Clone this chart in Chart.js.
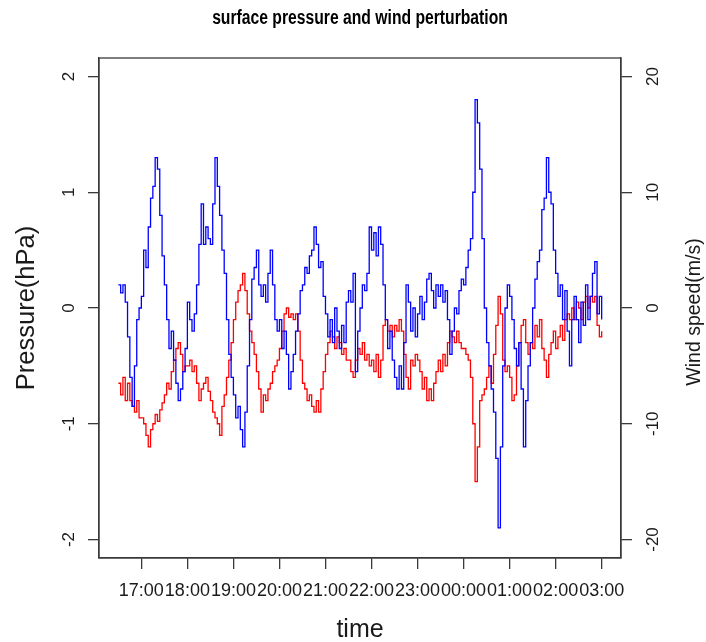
<!DOCTYPE html>
<html>
<head>
<meta charset="utf-8">
<script src="https://cdn.jsdelivr.net/npm/chart.js@4.4.1/dist/chart.umd.min.js"></script>
<style>
  html, body { margin: 0; padding: 0; background: #ffffff; }
  canvas { display: block; }
</style>
</head>
<body>
<canvas id="chart" width="706" height="642"></canvas>
<script>
// Sampling: one value every 3 minutes, starting 16:30
const stepMinutes = 3;

// Hourly tick positions (minutes after 16:30) and their labels
const tickMinutes = [30, 90, 150, 210, 270, 330, 390, 450, 510, 570, 630];
const tickLabels = ['17:00', '18:00', '19:00', '20:00', '21:00', '22:00',
                    '23:00', '00:00', '01:00', '02:00', '03:00'];

const pressureTicks = [-2, -1, 0, 1, 2];
const windTicks = [-20, -10, 0, 10, 20];

const chartTitle = 'surface pressure and wind perturbation';
const windAxisTitle = 'Wind speed(m/s)';

// Surface pressure perturbation (hPa)
const pressure = [
  -0.65, -0.75, -0.6, -0.8, -0.65, -0.8, -0.85, -0.9, -0.8, -0.95,
  -0.95, -1.0, -1.1, -1.2, -1.05, -1.0, -0.92, -0.98, -0.88, -0.82,
  -0.75, -0.65, -0.7, -0.55, -0.45, -0.35, -0.3, -0.4, -0.55, -0.5,
  -0.5, -0.45, -0.55, -0.5, -0.65, -0.8, -0.7, -0.65, -0.6, -0.72,
  -0.8, -0.9, -0.95, -1.0, -1.1, -0.85, -0.75, -0.6, -0.45, -0.3,
  -0.1, 0.05, 0.15, 0.2, 0.3, 0.15, -0.05, -0.2, -0.3, -0.4,
  -0.55, -0.7, -0.9, -0.75, -0.8, -0.7, -0.65, -0.55, -0.5, -0.45,
  -0.35, -0.2, -0.05, 0.0, -0.08, -0.05, -0.1, -0.05, -0.2, -0.45,
  -0.65, -0.7, -0.8, -0.75, -0.85, -0.9, -0.8, -0.9, -0.7, -0.55,
  -0.4, -0.3, -0.2, -0.25, -0.35, -0.25, -0.3, -0.4, -0.35, -0.45,
  -0.45, -0.55, -0.6, -0.45, -0.35, -0.4, -0.3, -0.45, -0.4, -0.5,
  -0.45, -0.55, -0.4, -0.6, -0.45, -0.15, -0.1, -0.2, -0.15, -0.25,
  -0.15, -0.2, -0.1, -0.2, -0.4, -0.6, -0.7, -0.45, -0.5, -0.4,
  -0.45, -0.55, -0.7, -0.6, -0.8, -0.7, -0.8, -0.65, -0.55, -0.45,
  -0.55, -0.4, -0.5, -0.3, -0.2, -0.25, -0.3, -0.2, -0.3, -0.35,
  -0.35, -0.4, -0.45, -0.6, -1.0, -1.5, -1.2, -0.8, -0.75, -0.7,
  -0.6, -0.5, -0.65, -0.4, -0.15, 0.1, -0.05, -0.45, -0.55, -0.5,
  -0.6, -0.8, -0.75, -0.5, -0.3, -0.15, -0.1, -0.3, -0.4, -0.3,
  -0.35, -0.15, -0.25, -0.1, -0.35, -0.45, -0.6, -0.4, -0.3, -0.2,
  -0.35, -0.25, -0.15, -0.28, -0.1, -0.05, -0.1, 0.0, -0.1, 0.05,
  0.0, -0.1, 0.05, 0.1, 0.0, 0.1, 0.05, 0.1, -0.15, -0.25, -0.2
];

// Wind speed perturbation (m/s)
const wind = [
  2, 1.3, 2, 0.5, -2.5, -6, -8.5, -5, -1, 0,
  1, 5, 3.5, 7, 9.5, 10.5, 13, 12, 8, 4.5,
  2, -1, -3.5, -2, -4.5, -6.5, -8, -7, -5.5, -3.5,
  0.5, -1, -2, -0.5, 2, 5.5, 9, 5.5, 7, 6,
  5.5, 9, 13, 10.5, 8, 5, 3, -1, -4, -6,
  -7.5, -9.5, -8.5, -10.5, -12, -9, -5, -1, 2.5, 3.5,
  5, 2, 1, 2, 0.5, 3, 5, 2, -1, -2,
  -1, -3.5, -2, -4, -7, -5.5, -4, -2, -0.5, 1.5,
  2, 3.5, 3, 4.5, 5, 7, 5.5, 3.5, 4, 1,
  -0.5, -2.5, -1, -3, 0, -2, -3.5, -1.5, -3, 0.5,
  1.5, 0.5, 3, -5.5, -2, 0, 2, 1.5, 3, 7,
  5, 6.5, 4.5, 7, 5.5, 2, -1, -3.5, -2, -4.5,
  -6, -7, -5, -7, -3, 2, 0.5, -2, 0, -2.5,
  -0.5, 1, -1, 0.5, 2.5, 3, 1.5, 0, 2, 1,
  2, 0.5, 1.5, -1, -4, -2, 0, -0.5, 1.5, 2.5,
  2, 3.5, 5, 6, 10, 18, 16, 12, 6, 0,
  -3, -5, -7, -9, -13, -19, -12, -5, 0, 2,
  1, -1, -3.5, -5, -3, -7, -12, -8, -5, -3,
  0, 2.5, 4, 5, 8.5, 9.5, 13, 10, 9, 5,
  3, 1, 2, -1, 1.5, -2, -5, -1, 1, -1,
  -3, 0.5, -1.5, 2, -1, 1, 3, 4, -0.5, 1, -1
];

const toPoints = arr => arr.map((v, i) => ({ x: i * stepMinutes, y: v }));

const FONT = "'Liberation Sans', Arial, Helvetica, sans-serif";
const AXIS_COLOR = '#3a3a3a';
const TEXT_COLOR = '#1a1a1a';

// Plot frame, a narrow bold main title centred over the plot, and the
// right-hand axis title reading bottom to top
const framePlugin = {
  id: 'frame',
  afterDraw(chart) {
    const { ctx, chartArea: a } = chart;
    ctx.save();
    ctx.strokeStyle = AXIS_COLOR;
    ctx.lineWidth = 1.3;
    ctx.strokeRect(a.left, a.top, a.right - a.left, a.bottom - a.top);
    ctx.restore();

    ctx.save();
    ctx.translate((a.left + a.right) / 2, 18);
    ctx.scale(0.785, 1);
    ctx.font = 'bold 20px ' + FONT;
    ctx.fillStyle = '#000000';
    ctx.textAlign = 'center';
    ctx.textBaseline = 'middle';
    ctx.fillText(chartTitle, 0, 0);
    ctx.restore();

    ctx.save();
    ctx.translate(695, 312);
    ctx.rotate(-Math.PI / 2);
    ctx.font = '19.5px ' + FONT;
    ctx.fillStyle = TEXT_COLOR;
    ctx.textAlign = 'center';
    ctx.textBaseline = 'middle';
    ctx.fillText(windAxisTitle, 0, 0);
    ctx.restore();
  }
};

const fixedTicks = values => scale => { scale.ticks = values.map(v => ({ value: v })); };

new Chart(document.getElementById('chart'), {
  type: 'line',
  data: {
    datasets: [
      {
        label: 'pressure',
        data: toPoints(pressure),
        yAxisID: 'y',
        borderColor: '#ff0000',
        borderWidth: 1.3,
        pointRadius: 0,
        stepped: true,
        fill: false,
        order: 2
      },
      {
        label: 'wind',
        data: toPoints(wind),
        yAxisID: 'y1',
        borderColor: '#0000ff',
        borderWidth: 1.3,
        pointRadius: 0,
        stepped: true,
        fill: false,
        order: 1
      }
    ]
  },
  options: {
    responsive: false,
    animation: false,
    layout: { padding: { top: 58, left: 0, right: 0, bottom: 0 } },
    plugins: {
      legend: { display: false },
      tooltip: { enabled: false },
      title: { display: false }
    },
    scales: {
      x: {
        type: 'linear',
        min: -25.2,
        max: 655.2,
        afterBuildTicks: fixedTicks(tickMinutes),
        afterFit: s => { s.height = 84; },
        grid: { display: true, drawOnChartArea: false, drawTicks: true, tickLength: 11, color: AXIS_COLOR, lineWidth: 1.3 },
        border: { display: true, color: AXIS_COLOR, width: 1.3 },
        ticks: {
          autoSkip: false,
          minRotation: 0,
          maxRotation: 0,
          padding: 11,
          color: TEXT_COLOR,
          font: { family: FONT, size: 18 },
          callback: v => tickLabels[tickMinutes.indexOf(v)]
        },
        title: {
          display: true,
          text: 'time',
          color: TEXT_COLOR,
          font: { family: FONT, size: 25 },
          padding: { top: 0, bottom: -3 }
        }
      },
      y: {
        position: 'left',
        min: -2.16,
        max: 2.16,
        afterBuildTicks: fixedTicks(pressureTicks),
        afterFit: s => { s.width = 99; },
        grid: { display: true, drawOnChartArea: false, drawTicks: true, tickLength: 11, color: AXIS_COLOR, lineWidth: 1.3 },
        border: { display: true, color: AXIS_COLOR, width: 1.3 },
        ticks: {
          minRotation: 90,
          maxRotation: 90,
          crossAlign: 'center',
          padding: 11,
          color: TEXT_COLOR,
          font: { family: FONT, size: 17 },
          callback: v => String(v)
        },
        title: {
          display: true,
          text: 'Pressure(hPa)',
          color: TEXT_COLOR,
          font: { family: FONT, size: 25.5 },
          padding: { top: 11.5, bottom: 0 }
        }
      },
      y1: {
        position: 'right',
        min: -21.6,
        max: 21.6,
        afterBuildTicks: fixedTicks(windTicks),
        afterFit: s => { s.width = 85; },
        grid: { display: true, drawOnChartArea: false, drawTicks: true, tickLength: 11, color: AXIS_COLOR, lineWidth: 1.3 },
        border: { display: true, color: AXIS_COLOR, width: 1.3 },
        ticks: {
          minRotation: 90,
          maxRotation: 90,
          crossAlign: 'center',
          padding: 9,
          color: TEXT_COLOR,
          font: { family: FONT, size: 17 },
          callback: v => String(v)
        }
      }
    }
  },
  plugins: [framePlugin]
});
</script>
</body>
</html>
